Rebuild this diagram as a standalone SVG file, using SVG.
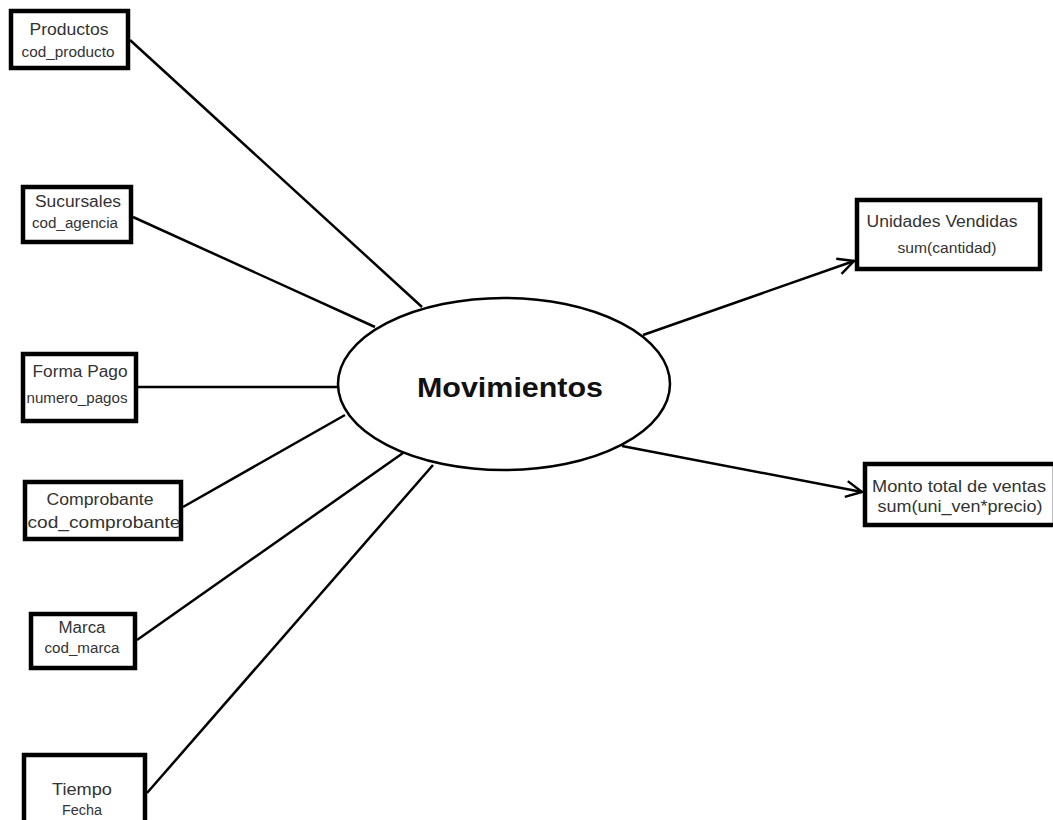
<svg xmlns="http://www.w3.org/2000/svg" width="1053" height="820" viewBox="0 0 1053 820">
<defs>
<style>
.box{fill:#fff;stroke:#000;stroke-width:4.5}
.t{font-family:"Liberation Sans",Arial,sans-serif;fill:#333;font-size:16px}
.s{font-family:"Liberation Sans",Arial,sans-serif;fill:#333;font-size:14px}
.ln{stroke:#000;stroke-width:2.5;fill:none}
</style>
<marker id="ah" viewBox="0 0 20 20" refX="18" refY="10" markerWidth="20" markerHeight="20" markerUnits="userSpaceOnUse" orient="auto">
<path d="M2,2 L18,10 L2,18" fill="none" stroke="#000" stroke-width="2.5"/>
</marker>
</defs>
<rect width="1053" height="820" fill="#fff"/>
<g id="connectors">
<line class="ln" x1="130" y1="40" x2="422" y2="307"/>
<line class="ln" x1="133" y1="217" x2="375" y2="327"/>
<line class="ln" x1="138" y1="387" x2="337" y2="387"/>
<line class="ln" x1="183" y1="507" x2="345" y2="415"/>
<line class="ln" x1="137" y1="640" x2="403" y2="453"/>
<line class="ln" x1="147" y1="793" x2="433" y2="465"/>
<line class="ln" x1="643" y1="335" x2="854" y2="261" marker-end="url(#ah)"/>
<line class="ln" x1="622" y1="446" x2="862" y2="492" marker-end="url(#ah)"/>
</g>
<g id="movimientos">
<ellipse cx="504" cy="384" rx="166" ry="86" fill="#fff" stroke="#000" stroke-width="2.5"/>
<text x="510" y="397" text-anchor="middle" font-family="'Liberation Sans',Arial,sans-serif" font-weight="bold" font-size="28" fill="#111" textLength="186" lengthAdjust="spacingAndGlyphs">Movimientos</text>
</g>
<g id="productos">
<rect class="box" x="11" y="11" width="117" height="57"/>
<text class="t" x="69" y="35" text-anchor="middle" textLength="79" lengthAdjust="spacingAndGlyphs">Productos</text>
<text class="s" x="68" y="57" text-anchor="middle" textLength="93" lengthAdjust="spacingAndGlyphs">cod_producto</text>
</g>
<g id="sucursales">
<rect class="box" x="23" y="187" width="108" height="55"/>
<text class="t" x="78" y="207" text-anchor="middle" textLength="86" lengthAdjust="spacingAndGlyphs">Sucursales</text>
<text class="s" x="75" y="228" text-anchor="middle" textLength="86" lengthAdjust="spacingAndGlyphs">cod_agencia</text>
</g>
<g id="formapago">
<rect class="box" x="23" y="354" width="113" height="67"/>
<text class="t" x="80" y="377" text-anchor="middle" textLength="95" lengthAdjust="spacingAndGlyphs">Forma Pago</text>
<text class="s" x="77" y="403" text-anchor="middle" textLength="101" lengthAdjust="spacingAndGlyphs">numero_pagos</text>
</g>
<g id="comprobante">
<rect class="box" x="25" y="482" width="156" height="57"/>
<text class="t" x="100" y="505" text-anchor="middle" textLength="107" lengthAdjust="spacingAndGlyphs">Comprobante</text>
<text class="t" x="104" y="528" text-anchor="middle" textLength="153" lengthAdjust="spacingAndGlyphs">cod_comprobante</text>
</g>
<g id="marca">
<rect class="box" x="31" y="614" width="104" height="54"/>
<text class="t" x="82" y="633" text-anchor="middle" textLength="47" lengthAdjust="spacingAndGlyphs">Marca</text>
<text class="s" x="82" y="653" text-anchor="middle" textLength="75" lengthAdjust="spacingAndGlyphs">cod_marca</text>
</g>
<g id="tiempo">
<rect class="box" x="24" y="755" width="121" height="70"/>
<text class="t" x="82" y="795" text-anchor="middle" textLength="60" lengthAdjust="spacingAndGlyphs">Tiempo</text>
<text class="s" x="82" y="815" text-anchor="middle" textLength="40" lengthAdjust="spacingAndGlyphs">Fecha</text>
</g>
<g id="unidades">
<rect class="box" x="857" y="200" width="183" height="69"/>
<text class="t" x="942" y="227" text-anchor="middle" textLength="151" lengthAdjust="spacingAndGlyphs">Unidades Vendidas</text>
<text class="s" x="947" y="253" text-anchor="middle" textLength="99" lengthAdjust="spacingAndGlyphs">sum(cantidad)</text>
</g>
<g id="monto">
<rect class="box" x="865" y="464" width="190" height="61"/>
<text class="t" x="959" y="492" text-anchor="middle" textLength="174" lengthAdjust="spacingAndGlyphs">Monto total de ventas</text>
<text class="t" x="960" y="512" text-anchor="middle" textLength="165" lengthAdjust="spacingAndGlyphs">sum(uni_ven*precio)</text>
</g>
</svg>
